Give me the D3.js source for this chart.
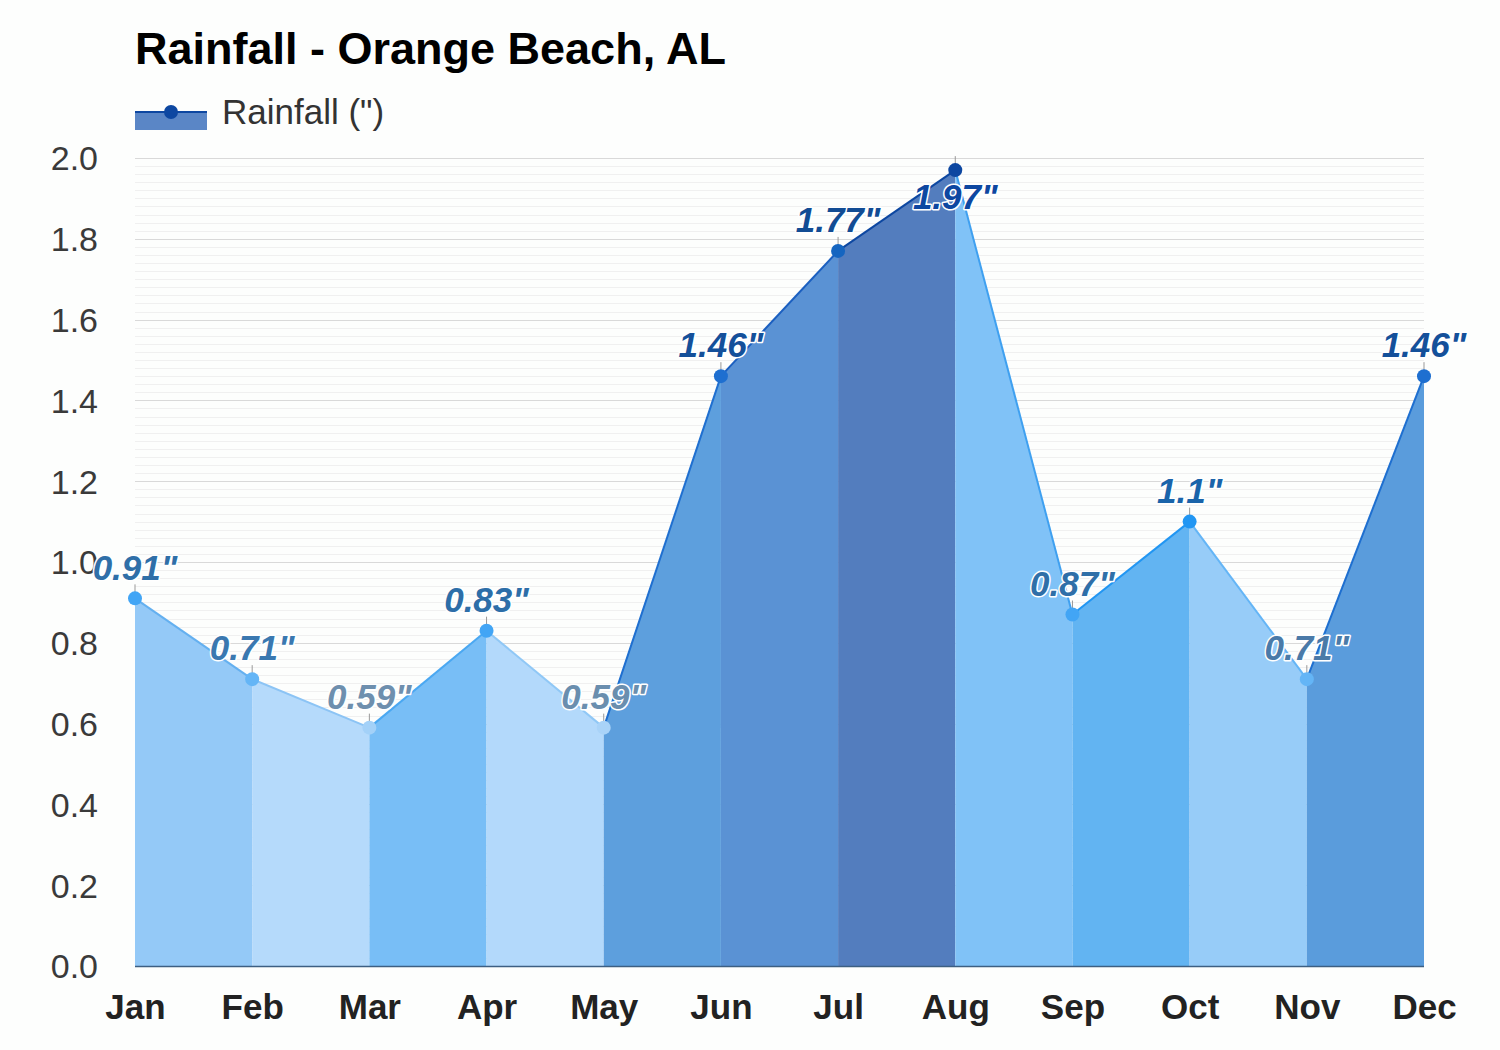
<!DOCTYPE html>
<html><head><meta charset="utf-8">
<script src="https://cdn.jsdelivr.net/npm/d3@7"></script>
<style>html,body{margin:0;padding:0;background:#fdfefd;}svg{display:block;font-family:"Liberation Sans",Arial,sans-serif;}</style>
</head><body><svg id="c" width="1500" height="1050"></svg>
<script>
const months = ["Jan","Feb","Mar","Apr","May","Jun","Jul","Aug","Sep","Oct","Nov","Dec"];
const rainfall = [0.91,0.71,0.59,0.83,0.59,1.46,1.77,1.97,0.87,1.1,0.71,1.46];
const yTicks = [0,0.2,0.4,0.6,0.8,1.0,1.2,1.4,1.6,1.8,2.0];
const title = "Rainfall - Orange Beach, AL";
const seriesName = "Rainfall (\")";

// styles
const fillColors = ["#94c9f7","#b5dafb","#78bef6","#b3d9fb","#5d9fdd","#5a92d4","#537dbe","#80c2f7","#62b4f2","#97ccf8","#5a9cdc"];
const lineColors = ["#64b0f0","#8cc4f5","#4aa8f2","#90c8f6","#1f6fd0","#1b5fc0","#0d47a1","#3fa0f0","#2196f3","#64b5f6","#1e6fd0"];
const dotColors = ["#42a5f5","#64b5f6","#a3d1f8","#42a5f5","#a9d3f8","#1e6fd0","#1565c0","#0d47a1","#42a5f5","#2196f3","#64b5f6","#1e6fd0"];
const labelColors = ["#2f6fa8","#3a78b0","#6e8fae","#2d6ea8","#6a8eae","#14509a","#124c94","#0d47a1","#2f6fa8","#1a64aa","#4a7aa8","#14509a"];

const svg = d3.select("#c");
const L = 135, R = 1424, T = 158, B = 966;
const x = d3.scalePoint().domain(months).range([L, R]);
const y = d3.scaleLinear().domain([0, 2]).range([B, T]);

// minor grid
const minor = d3.range(0, 2.0001, 0.02);
svg.append("g").selectAll("line").data(minor).join("line")
  .attr("x1", L).attr("x2", R).attr("y1", d => Math.round(y(d)) + 0.5).attr("y2", d => Math.round(y(d)) + 0.5)
  .attr("stroke", "#f0f0f0").attr("stroke-width", 1);
// major grid
svg.append("g").selectAll("line").data(yTicks).join("line")
  .attr("x1", L).attr("x2", R).attr("y1", d => Math.round(y(d)) + 0.5).attr("y2", d => Math.round(y(d)) + 0.5)
  .attr("stroke", "#d9d9d9").attr("stroke-width", 1);

// y axis labels
const yAxis = d3.axisLeft(y).tickValues(yTicks).tickFormat(d3.format(".1f")).tickSize(0).tickPadding(0);
const gy = svg.append("g").attr("transform", `translate(98,0)`).call(yAxis);
gy.select(".domain").remove();
gy.selectAll("text").attr("font-size", 34).attr("fill", "#3a3a3a").attr("font-family", "'Liberation Sans',Arial,sans-serif").attr("dy", "0.35em");

// area segments
const segs = d3.range(months.length - 1).map(i => [
  {m: months[i], v: rainfall[i]}, {m: months[i + 1], v: rainfall[i + 1]}
]);
const area = d3.area().x(d => x(d.m)).y0(y(0)).y1(d => y(d.v));
const line = d3.line().x(d => x(d.m)).y(d => y(d.v));
svg.append("g").selectAll("path").data(segs).join("path")
  .attr("d", area).attr("fill", (d, i) => fillColors[i]);
svg.append("g").selectAll("path").data(segs).join("path")
  .attr("d", line).attr("fill", "none").attr("stroke", (d, i) => lineColors[i]).attr("stroke-width", 2);

// baseline
svg.append("line").attr("x1", L).attr("x2", R).attr("y1", y(0) + 0.5).attr("y2", y(0) + 0.5)
  .attr("stroke", "#3d5f82").attr("stroke-width", 1.5);

// x axis
const xAxis = d3.axisBottom(x).tickSize(0).tickPadding(0);
const gx = svg.append("g").attr("transform", `translate(0,${B})`).call(xAxis);
gx.select(".domain").remove();
gx.selectAll("text").attr("font-size", 35).attr("font-weight", "bold").attr("fill", "#222")
  .attr("font-family", "'Liberation Sans',Arial,sans-serif").attr("dy", null).attr("y", 53);

// connectors
const pts = months.map((m, i) => ({m, v: rainfall[i], i}));
svg.append("g").selectAll("line").data(pts).join("line")
  .attr("x1", d => x(d.m)).attr("x2", d => x(d.m))
  .attr("y1", d => y(d.v)).attr("y2", d => y(d.v) - 14)
  .attr("stroke", "#999").attr("stroke-width", 1);

// dots
svg.append("g").selectAll("circle").data(pts).join("circle")
  .attr("cx", d => x(d.m)).attr("cy", d => y(d.v)).attr("r", 7)
  .attr("fill", d => dotColors[d.i]);

// labels
const labY = d => {
  let cy = y(d.v) - 31;
  if (cy - 15 < T) cy = y(d.v) + 27;
  return cy;
};
svg.append("g").selectAll("text").data(pts).join("text")
  .attr("x", d => x(d.m)).attr("y", d => labY(d)).attr("dy", "0.35em")
  .attr("text-anchor", "middle").attr("font-size", 35).attr("font-weight", "bold").attr("font-style", "italic")
  .attr("fill", d => labelColors[d.i]).attr("stroke", "#fff").attr("stroke-width", 3)
  .attr("paint-order", "stroke").attr("stroke-linejoin", "round")
  .text(d => d3.format("")(d.v) + "\"");

// title
svg.append("text").attr("x", 135).attr("y", 64).attr("font-size", 45).attr("font-weight", "bold")
  .attr("fill", "#000").text(title);

// legend
const lg = svg.append("g");
lg.append("rect").attr("x", 135).attr("y", 112).attr("width", 72).attr("height", 18).attr("fill", "#5a86c6");
lg.append("line").attr("x1", 135).attr("x2", 207).attr("y1", 112).attr("y2", 112).attr("stroke", "#0d47a1").attr("stroke-width", 2);
lg.append("circle").attr("cx", 171).attr("cy", 112).attr("r", 7).attr("fill", "#0d47a1");
lg.append("text").attr("x", 222).attr("y", 112).attr("dy", "0.35em").attr("font-size", 35).attr("fill", "#333").text(seriesName);
</script></body></html>
